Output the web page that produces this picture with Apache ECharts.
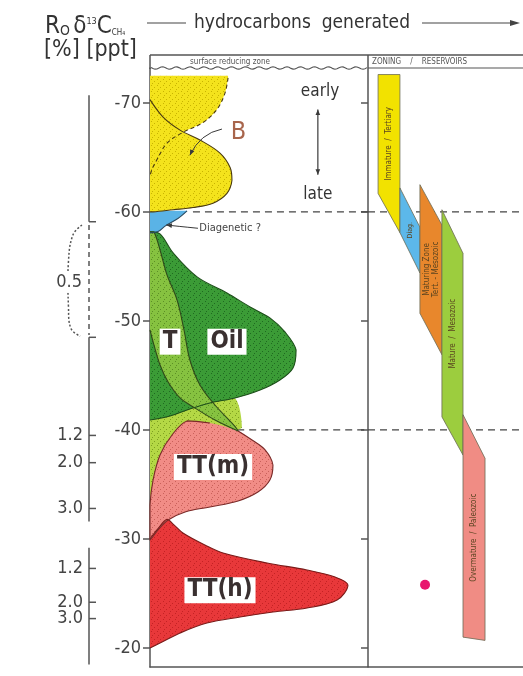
<!DOCTYPE html>
<html>
<head>
<meta charset="utf-8">
<script src="https://cdn.jsdelivr.net/npm/echarts@6/dist/echarts.min.js"></script>
<style>
  html, body { margin: 0; background: #fff; }
  #chart { width: 523px; height: 676px; }
</style>
</head>
<body>
<div id="chart"></div>
<script>
// δ13C of methane [ppt] on the vertical axis, "amount generated" (0-100, arbitrary) across
const deltaTicks = [-70, -60, -50, -40, -30, -20];
const yMin = -73.2, yMax = -18.26;

// Gas / oil generation envelopes: [generated, δ13C]
const bacterialEarly = [[0, -72.5], [35.8, -72.5], [35.8, -72.3], [34.4, -70.9], [30.7, -69.4], [24.3, -68.2],
  [15.1, -67.3], [7.8, -66.3], [3.2, -64.8], [0.9, -63.9], [0, -63.3]];
const bacterialB = [[0, -70.3], [6, -68.7], [13.8, -67.5], [22.9, -66.6], [32.1, -65.4], [36.7, -64.1],
  [37.6, -62.9], [35.3, -61.7], [28.9, -60.8], [19.7, -60.4], [10.6, -60.2], [1.4, -60], [0, -60]];
const diagenetic = [[0, -60], [17, -60.1], [12.8, -59.4], [6.9, -58.7], [3.7, -58.2], [0, -58.07]];
const mixedZone = [[0, -41.6], [13.8, -42.2], [29.8, -42.7], [39, -42.9], [42.2, -40.2], [18.3, -39.8],
  [6.9, -38.6], [3.7, -36.3], [2.8, -33.6], [0, -33.1]];
const oil = [[0, -58.17], [4.6, -57.98], [10.6, -56.24], [21.6, -54.04], [35.3, -52.57], [45.9, -51.28],
  [55, -50.28], [61.9, -48.99], [67, -47.34], [65.6, -45.69], [59.6, -44.59], [50.5, -43.67], [39, -42.94],
  [27.5, -42.48], [18.3, -41.93], [9.2, -41.28], [0, -40.92]];
const thermogenicT = [[0, -58.17], [1.8, -58.17], [4.6, -56.51], [7.8, -54.22], [12.4, -51.93], [15.6, -49.17],
  [18.3, -46.42], [22.9, -44.13], [29.8, -42.29], [40.4, -39.91], [29.8, -40.92], [20.6, -42.02], [13.8, -42.94],
  [8.3, -44.4], [4.6, -45.96], [1.8, -47.8], [0, -49.17]];
const ttHigh = [[0, -30.0], [3.5, -30.9], [7.8, -31.8], [11, -31.3], [15.1, -30.55], [25.2, -29.45], [33.5, -28.72],
  [53.7, -27.8], [72, -27.16], [84.9, -26.51], [90.8, -25.78], [85.8, -24.4], [72, -23.67], [56.4, -23.3],
  [41.3, -22.84], [26.1, -22.29], [13.8, -21.38], [4.6, -20.46], [0, -20]];
const ttMedium = [[40.4, -39.91], [46.8, -39.08], [52.8, -38.17], [56.4, -36.79], [55, -35.41], [49.5, -34.31],
  [40.4, -33.49], [27.5, -32.94], [16.1, -32.48], [8.3, -31.74], [3.7, -30.83], [0, -29.91], [0, -33.12],
  [1.4, -35.41], [4.6, -37.71], [10.1, -39.54], [17, -40.83], [27.5, -40.64]];

const fieldNames = ['B', 'T', 'Oil', 'TT(m)', 'TT(h)'];
const fieldAnchors = [[40.6, -67.3], [9.2, -48.1], [35.3, -48.1], [28.9, -36.6], [32.1, -25.3]];
const boundaryLevels = [-60, -40];
const boundaryStart = [19.7, 40];

// Ro scale (vitrinite reflectance) against the same δ13C axis
const roSolidRanges = [[-70.7, -59.1], [-48.5, -31.6], [-29.2, -18.5]];
const roDashedRange = [-58.8, -48.7];
const roTickValues = [-39.5, -37.0, -32.8, -27.3, -24.2, -22.7];
const roTickLabels = ['1.2', '2.0', '3.0', '1.2', '2.0', '3.0'];
const roEndTicks = [-59.1, -48.5];
const roHalfAt = -53.5;
const roBracket = [[42, -58.8], [33, -57.9], [28.5, -55.5], [28.5, -51.2], [31, -49.3], [40, -48.6]];

// Zoning / reservoirs column
const zoneNames = ['Immature  /  Tertiary', 'Diag.', 'Maturing Zone\nTert. - Mesozoic', 'Mature  /  Mesozoic', 'Overmature  /  Paleozoic'];
const zoneLeft = [6.5, 20.6, 33.5, 47.7, 61.3];
const zoneRight = [20.6, 33.5, 47.7, 61.3, 75.5];
const zoneTop = [[-72.6, -72.6], [-62.2, -58.6], [-62.5, -58.8], [-60.2, -56.2], [-41.4, -37.4]];
const zoneBottom = [[-61.7, -58.1], [-58.1, -54.4], [-50.7, -46.9], [-41.2, -37.7], [-21.0, -20.7]];
const samplePoint = [[36.8, -25.8]];

const FONT = "'DejaVu Sans Condensed', 'DejaVu Sans', sans-serif";
const INK = '#3a3a3a';
const zoneColors = ['#f2e200', '#5cb8ea', '#e8872c', '#9ccd3e', '#f08c84'];

function stipple(base, dot) {
  const c = document.createElement('canvas');
  c.width = 6; c.height = 6;
  const g = c.getContext('2d');
  g.fillStyle = base; g.fillRect(0, 0, 6, 6);
  g.fillStyle = dot;
  g.fillRect(1, 1, 1, 1); g.fillRect(4, 3, 1, 1); g.fillRect(2, 5, 1, 1);
  return { image: c, repeat: 'repeat' };
}

function bbox(pts) {
  const xs = pts.map(p => p[0]), ys = pts.map(p => p[1]);
  return [[Math.min(...xs), Math.min(...ys)], [Math.max(...xs), Math.max(...ys)]];
}

// closed smoothed region (fill) + its outline from edgeFrom to the end (axis edge left open).
// Outlines go in a higher z so crossing boundaries stay visible like in the drawing.
function region(name, pts, fill, stroke, opts = {}) {
  const out = [{
    type: 'custom', name, xAxisIndex: 0, yAxisIndex: 0, silent: true, z: 2,
    data: pts,
    renderItem(params, api) {
      if (params.dataIndex !== 0) return;
      const px = pts.map(p => api.coord(p));
      return { type: 'polygon', shape: { points: px, smooth: 0.35, smoothConstraint: bbox(px) }, style: { fill } };
    }
  }];
  if (stroke) out.push({
    type: 'custom', name: name + ' edge', xAxisIndex: 0, yAxisIndex: 0, silent: true, z: 3,
    data: pts,
    renderItem(params, api) {
      if (params.dataIndex !== 0) return;
      const line = pts.slice(opts.edgeFrom || 0).map(p => api.coord(p));
      return {
        type: 'polyline',
        shape: { points: line, smooth: 0.35, smoothConstraint: bbox(line) },
        style: { fill: null, stroke, lineWidth: 1.1, lineDash: opts.dash || null }
      };
    }
  });
  return out;
}

function arrowHead(tip, from, size) {
  const a = Math.atan2(tip[1] - from[1], tip[0] - from[0]);
  return {
    type: 'polygon',
    shape: { points: [tip,
      [tip[0] - size * Math.cos(a - 0.4), tip[1] - size * Math.sin(a - 0.4)],
      [tip[0] - size * Math.cos(a + 0.4), tip[1] - size * Math.sin(a + 0.4)]] },
    style: { fill: INK }
  };
}

// straight segments [x1, y1, x2, y2]
function segments(grid, segs, style) {
  return {
    type: 'custom', xAxisIndex: grid, yAxisIndex: grid, silent: true,
    data: segs,
    renderItem(params, api) {
      const a = api.coord([api.value(0), api.value(1)]);
      const b = api.coord([api.value(2), api.value(3)]);
      return { type: 'line', shape: { x1: a[0], y1: a[1], x2: b[0], y2: b[1] }, style };
    }
  };
}

function labels(grid, anchors, texts, style) {
  return {
    type: 'custom', xAxisIndex: grid, yAxisIndex: grid, silent: true, z: 5,
    data: anchors,
    renderItem(params, api) {
      const p = api.coord([api.value(0), api.value(1)]);
      return {
        type: 'text', x: p[0], y: p[1],
        style: Object.assign({ text: texts[params.dataIndex], align: 'center', verticalAlign: 'middle', fill: INK, fontFamily: FONT }, style)
      };
    }
  };
}

const chart = echarts.init(document.getElementById('chart'));

const wave = [];
for (let x = 151; x <= 367; x += 2) wave.push([x, 68 + Math.sin(x / 2.2) * 1.2]);

const yAxisBase = { type: 'value', inverse: true, min: yMin, max: yMax, splitLine: { show: false } };
const xAxisBase = { type: 'value', min: 0, max: 100, axisTick: { show: false }, axisLabel: { show: false }, splitLine: { show: false } };

chart.setOption({
  animation: false,
  backgroundColor: '#fff',
  grid: [
    { left: 150, top: 68, width: 218, bottom: 9 },
    { left: 368, top: 68, right: 0, bottom: 9 },
    { left: 40, top: 68, width: 60, bottom: 9 }
  ],
  xAxis: [
    Object.assign({ gridIndex: 0, axisLine: { onZero: false, lineStyle: { color: '#555', width: 1.5 } } }, xAxisBase),
    Object.assign({ gridIndex: 1, axisLine: { onZero: false, lineStyle: { color: '#555', width: 1.5 } } }, xAxisBase),
    { gridIndex: 2, type: 'value', min: 0, max: 60, show: false }
  ],
  yAxis: [
    Object.assign({
      gridIndex: 0,
      axisLine: { show: true, lineStyle: { color: '#555', width: 1.5 } },
      axisTick: { show: true, length: 7, customValues: deltaTicks, lineStyle: { color: '#555', width: 1.5 } },
      axisLabel: { customValues: deltaTicks, margin: 9, color: '#444', fontSize: 18, fontFamily: FONT }
    }, yAxisBase),
    Object.assign({
      gridIndex: 1, position: 'right',
      axisLine: { show: false },
      axisTick: { show: true, inside: true, length: 7, customValues: deltaTicks, lineStyle: { color: '#555', width: 1.5 } },
      axisLabel: { show: false }
    }, yAxisBase),
    Object.assign({ gridIndex: 2, show: false }, yAxisBase)
  ],
  graphic: [
    { type: 'line', shape: { x1: 150, y1: 55, x2: 523, y2: 55 }, style: { stroke: '#555', lineWidth: 1.5 } },
    { type: 'line', shape: { x1: 150, y1: 55, x2: 150, y2: 69 }, style: { stroke: '#555', lineWidth: 1.5 } },
    { type: 'line', shape: { x1: 368, y1: 55, x2: 368, y2: 667 }, style: { stroke: '#555', lineWidth: 1.5 } },
    { type: 'line', shape: { x1: 368, y1: 68, x2: 523, y2: 68 }, style: { stroke: '#555', lineWidth: 1.2 } },
    { type: 'polyline', shape: { points: wave }, style: { stroke: '#555', lineWidth: 1.1, fill: null } },
    { type: 'text', x: 230, y: 62, style: { text: 'surface reducing zone', fontSize: 8, fill: '#555', align: 'center', verticalAlign: 'middle', fontFamily: FONT } },
    { type: 'text', x: 372, y: 62, style: { text: 'ZONING    /    RESERVOIRS', fontSize: 8, fill: '#555', align: 'left', verticalAlign: 'middle', fontFamily: FONT } },
    {
      type: 'text', x: 45, y: 27,
      style: {
        text: '{r|R}{o|O} {r|δ}{sup|13}{r|C}{sub|CH₄}', verticalAlign: 'middle', fill: '#333',
        rich: {
          r: { fontSize: 24, fontFamily: FONT, fill: '#333' },
          o: { fontSize: 14, fontFamily: FONT, fill: '#333', padding: [8, 0, 0, 0] },
          sup: { fontSize: 9, fontFamily: FONT, fill: '#333', padding: [0, 0, 10, 0] },
          sub: { fontSize: 8, fontFamily: FONT, fill: '#333', padding: [12, 0, 0, 0] }
        }
      }
    },
    { type: 'text', x: 44, y: 50, style: { text: '[%] [ppt]', fontSize: 23, fontFamily: FONT, fill: '#333', verticalAlign: 'middle' } },
    { type: 'line', shape: { x1: 147, y1: 23, x2: 186, y2: 23 }, style: { stroke: '#444', lineWidth: 1.2 } },
    { type: 'text', x: 302, y: 23, style: { text: 'hydrocarbons  generated', fontSize: 19, fontFamily: FONT, fill: '#333', align: 'center', verticalAlign: 'middle' } },
    { type: 'line', shape: { x1: 422, y1: 23, x2: 512, y2: 23 }, style: { stroke: '#444', lineWidth: 1.2 } },
    { type: 'polygon', shape: { points: [[520, 23], [510, 20], [510, 26]] }, style: { fill: '#444' } }
  ],
  series: [
    // boundary lines behind everything
    segments(0, boundaryLevels.map((v, i) => [boundaryStart[i], v, 100, v]), { stroke: '#444', lineWidth: 1.2, lineDash: [7, 5] }),
    segments(1, boundaryLevels.map(v => [0, v, 100, v]), { stroke: '#444', lineWidth: 1.2, lineDash: [7, 5] }),

    ...region('mixed', mixedZone, stipple('#b4d845', '#7ea020'), null),
    ...region('Oil', oil, stipple('#3b9b36', '#1f6a20'), '#1d4f1a'),
    ...region('T', thermogenicT, stipple('#86c240', '#5c8f25'), '#2f4a1a'),
    ...region('TT(h)', ttHigh, stipple('#e8383a', '#c42224'), '#7a1a18'),
    ...region('TT(m)', ttMedium, stipple('#f18c86', '#c9605a'), '#7a2a28'),
    ...region('diagenetic', diagenetic, '#5ab3e6', '#2a4a60', { edgeFrom: 1 }),
    ...region('early bacterial', bacterialEarly, stipple('#f4e31c', '#c9b400'), '#4a3a10', { edgeFrom: 2, dash: [4, 3] }),
    ...region('B', bacterialB, stipple('#f4e31c', '#c9b400'), '#4a3a10'),

    // leader lines and the early/late arrow
    {
      type: 'custom', xAxisIndex: 0, yAxisIndex: 0, silent: true, z: 4,
      data: [[33, -67.6, 23, -67.2, 18.3, -65.2], [22, -58.5, 12, -58.7, 7.5, -58.8]],
      renderItem(params, api) {
        const a = api.coord([api.value(0), api.value(1)]);
        const c = api.coord([api.value(2), api.value(3)]);
        const b = api.coord([api.value(4), api.value(5)]);
        return {
          type: 'group', children: [
            { type: 'bezierCurve', shape: { x1: a[0], y1: a[1], cpx1: c[0], cpy1: c[1], x2: b[0], y2: b[1] }, style: { stroke: INK, lineWidth: 1, fill: null } },
            arrowHead(b, c, 6)
          ]
        };
      }
    },
    {
      type: 'custom', xAxisIndex: 0, yAxisIndex: 0, silent: true, z: 4,
      data: [[77, -69.4, 77, -63.4]],
      renderItem(params, api) {
        const a = api.coord([api.value(0), api.value(1)]);
        const b = api.coord([api.value(2), api.value(3)]);
        return {
          type: 'group', children: [
            { type: 'line', shape: { x1: a[0], y1: a[1], x2: b[0], y2: b[1] }, style: { stroke: INK, lineWidth: 1.2 } },
            arrowHead(a, b, 6), arrowHead(b, a, 6)
          ]
        };
      }
    },

    labels(0, fieldAnchors.slice(1), fieldNames.slice(1), { fontSize: 24, fontWeight: 'bold', backgroundColor: '#fff', padding: [2, 3, 0, 3], fill: '#3a3030' }),
    labels(0, [fieldAnchors[0]], [fieldNames[0]], { fontSize: 25, fill: '#a8654c' }),
    labels(0, [[78, -71.0], [77, -61.6]], ['early', 'late'], { fontSize: 17, fill: '#333' }),
    labels(0, [[22.6, -58.5]], ['Diagenetic ?'], { fontSize: 11, align: 'left', fill: '#444' }),

    // Ro scale
    segments(2, roSolidRanges.map(r => [49, r[0], 49, r[1]]), { stroke: '#555', lineWidth: 1.5 }),
    segments(2, [[49, roDashedRange[0], 49, roDashedRange[1]]], { stroke: '#555', lineWidth: 1.5, lineDash: [5, 4] }),
    segments(2, roTickValues.concat(roEndTicks).map(v => [49, v, 56, v]), { stroke: '#555', lineWidth: 1.5 }),
    {
      type: 'custom', xAxisIndex: 2, yAxisIndex: 2, silent: true,
      data: roBracket,
      renderItem(params, api) {
        if (params.dataIndex !== 0) return;
        const px = roBracket.map(p => api.coord(p));
        return { type: 'polyline', shape: { points: px, smooth: 0.4 }, style: { stroke: '#555', lineWidth: 1.5, lineDash: [2, 2], fill: null } };
      }
    },
    labels(2, roTickValues.map(v => [43, v]), roTickLabels, { fontSize: 18, align: 'right', fill: '#444' }),
    labels(2, [[43, roHalfAt]], ['0.5'], { fontSize: 18, align: 'right', fill: '#444', backgroundColor: '#fff', padding: [2, 1, 0, 2] }),

    // zoning / reservoirs bars
    {
      type: 'custom', xAxisIndex: 1, yAxisIndex: 1, silent: true, z: 3,
      data: zoneNames.map((n, i) => [zoneLeft[i], zoneRight[i], zoneTop[i][0], zoneTop[i][1], zoneBottom[i][0], zoneBottom[i][1]]),
      renderItem(params, api) {
        const i = params.dataIndex;
        const a = api.coord([api.value(0), api.value(2)]);
        const b = api.coord([api.value(1), api.value(3)]);
        const c = api.coord([api.value(1), api.value(5)]);
        const d = api.coord([api.value(0), api.value(4)]);
        return {
          type: 'group', children: [
            { type: 'polygon', shape: { points: [a, b, c, d] }, style: { fill: zoneColors[i], stroke: '#6b6b55', lineWidth: 0.8 } },
            {
              type: 'text', x: (a[0] + b[0]) / 2, y: (a[1] + b[1] + c[1] + d[1]) / 4, rotation: Math.PI / 2,
              style: { text: zoneNames[i], fontSize: i === 1 ? 7 : 8, lineHeight: 9, fontFamily: FONT, fill: '#5a4420', align: 'center', verticalAlign: 'middle' }
            }
          ]
        };
      }
    },
    {
      type: 'scatter', xAxisIndex: 1, yAxisIndex: 1, silent: true, z: 4,
      data: samplePoint, symbolSize: 10, itemStyle: { color: '#e8166e', opacity: 1 }
    }
  ]
});
</script>
</body>
</html>
